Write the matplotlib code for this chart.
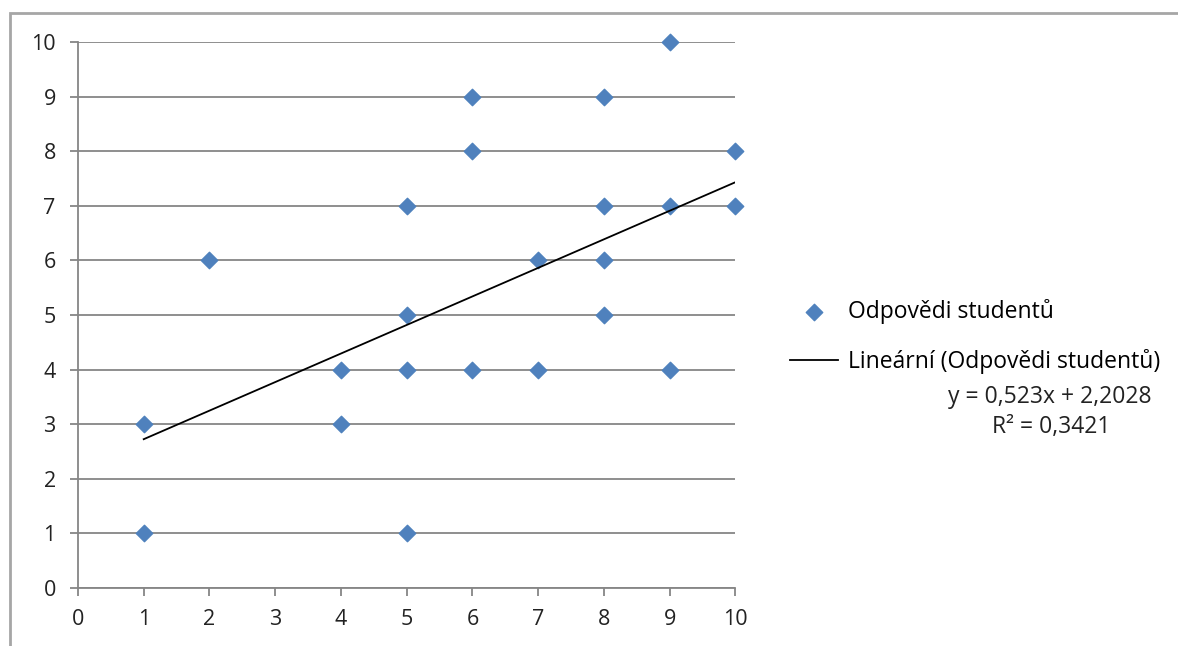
#!/usr/bin/env python3
import numpy as np
from matplotlib import pyplot as plt
from matplotlib.patches import Rectangle

# student answers (x, y)
x_values = [1, 1, 2, 4, 4, 5, 5, 5, 5, 6, 6, 6, 7, 7, 8, 8, 8, 8, 9, 9, 9, 10, 10]
y_values = [3, 1, 6, 4, 3, 7, 5, 4, 1, 9, 8, 4, 6, 4, 9, 7, 6, 5, 10, 7, 4, 8, 7]

# trendline as printed on the chart
slope = 0.523
intercept = 2.2028
r_squared = 0.3421
trend_x = [1, 10]

series_label = 'Odpovědi studentů'
trend_label = 'Lineární (Odpovědi studentů)'

plt.rcParams['font.family'] = ['Open Sans', 'DejaVu Sans']

fig = plt.figure(figsize=(11.78, 6.46), dpi=100)
ax = fig.add_axes([0.0662, 0.0898, 0.558, 0.845])

# chart area border (runs off the right and bottom edge)
fig.patches.append(Rectangle((10/1178, -0.1), 1.2, (646-13)/646 + 0.1,
							transform=fig.transFigure, fill=False,
							edgecolor='#a6a6a6', linewidth=2.0, zorder=0))

ax.scatter(x_values, y_values, marker='D', s=70, color='#4f81bd',
			edgecolors='#4f81bd', zorder=5, label=series_label, clip_on=False)
trend_y = [slope*v + intercept for v in trend_x]
ax.plot(trend_x, trend_y, color='black', linewidth=1.3, zorder=6,
		label=trend_label)

ax.set_xlim(0, 10)
ax.set_ylim(0, 10)
ax.set_xticks(range(0, 11))
ax.set_yticks(range(0, 11))
ax.yaxis.grid(True, color='#868686', linewidth=1.3)
ax.set_axisbelow(True)
for side in ['top', 'right']:
	ax.spines[side].set_visible(False)
for side in ['left', 'bottom']:
	ax.spines[side].set_color('#868686')
	ax.spines[side].set_linewidth(1.3)
ax.tick_params(axis='both', direction='out', length=6, width=1.3,
				color='#868686', labelsize=15.5, labelcolor='#222222')
ax.tick_params(axis='y', pad=10)
ax.tick_params(axis='x', pad=9)

leg = fig.legend(loc='upper left', bbox_to_anchor=(790/1178, 0.537),
					frameon=False, fontsize=16.5, handlelength=2.1,
					handletextpad=0.43, labelspacing=1.08, borderpad=0,
					borderaxespad=0, markerscale=1.0)
fig.text(1050/1178, 1 - 397/646, f'y = {slope:.3f}x + {intercept:.4f}'.replace('.', ','),
			ha='center', va='center', fontsize=16.5, color='#222222')
fig.text(1051/1178, 1 - 427/646, f'R² = {r_squared:.4f}'.replace('.', ','),
			ha='center', va='center', fontsize=16.5, color='#222222')

plt.savefig('out.png', dpi=100)
